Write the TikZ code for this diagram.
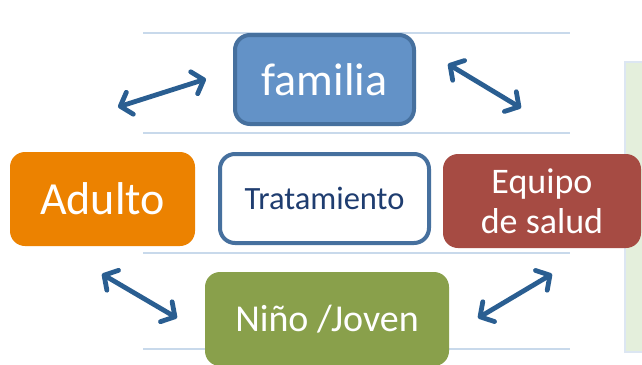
\documentclass[tikz,border=0pt]{standalone}
\usepackage{fontspec}
\setmainfont{Carlito}
\usetikzlibrary{arrows.meta}
\definecolor{famblue}{RGB}{99,146,199}
\definecolor{famedge}{RGB}{70,112,158}
\definecolor{adorange}{RGB}{236,130,0}
\definecolor{eqred}{RGB}{166,75,67}
\definecolor{nigreen}{RGB}{137,160,75}
\definecolor{trtext}{RGB}{31,61,112}
\definecolor{rulecol}{RGB}{200,217,235}
\definecolor{panelfill}{RGB}{228,239,220}
\definecolor{paneledge}{RGB}{220,230,242}
\definecolor{arrcol}{RGB}{42,94,145}

\begin{document}
\begin{tikzpicture}[x=1pt,y=-1pt]
\tikzstyle{every node}=[rounded corners=15pt,inner sep=0pt,align=center,text=white]
\tikzstyle{role}=[minimum height=94pt]
\tikzstyle{link}=[arrcol,line width=4.8pt,line cap=round,{Straight Barb[length=10pt,width=23pt,round]}-{Straight Barb[length=10pt,width=23pt,round]}]
\useasboundingbox (0,0) rectangle (642,364);
\fill[white] (0,0) rectangle (642,364);

\foreach \y in {33,133,253,349}
\draw[rulecol,line width=1.5pt] (143,\y) -- (570,\y);

\draw[paneledge,fill=panelfill,line width=1.5pt] (625,62) rectangle (660,352);

\node[role,fill=famblue,draw=famedge,line width=4pt,minimum width=179pt,minimum height=89pt,font=\fontsize{46}{50}\selectfont] (familia) at (324.5,79.5) {familia};
\node[role,fill=adorange,minimum width=185pt,font=\fontsize{46}{50}\selectfont] (adulto) at (102.5,199) {Adulto};
\node[role,fill=white,draw=famedge,line width=4pt,minimum width=209pt,minimum height=89pt,text=trtext,font=\fontsize{32.5}{36}\selectfont] (trat) at (324.5,198.5) {Tratamiento};
\node[role,fill=eqred,minimum width=198pt,font=\fontsize{36}{40}\selectfont] (equipo) at (542,201) {Equipo\\de salud};
\node[role,fill=nigreen,minimum width=244pt,font=\fontsize{38}{42}\selectfont] (nino) at (327,319) {Niño /Joven};

\coordinate (tl1) at (118,107);
\coordinate (tl2) at (206,79);
\coordinate (tr1) at (448,64);
\coordinate (tr2) at (521,108);
\coordinate (bl1) at (102,274);
\coordinate (bl2) at (177,318);
\coordinate (br1) at (478,318);
\coordinate (br2) at (552,274);

\draw[link] (tl1) -- (tl2);
\draw[link] (tr1) -- (tr2);
\draw[link] (bl1) -- (bl2);
\draw[link] (br1) -- (br2);
\end{tikzpicture}
\end{document}
